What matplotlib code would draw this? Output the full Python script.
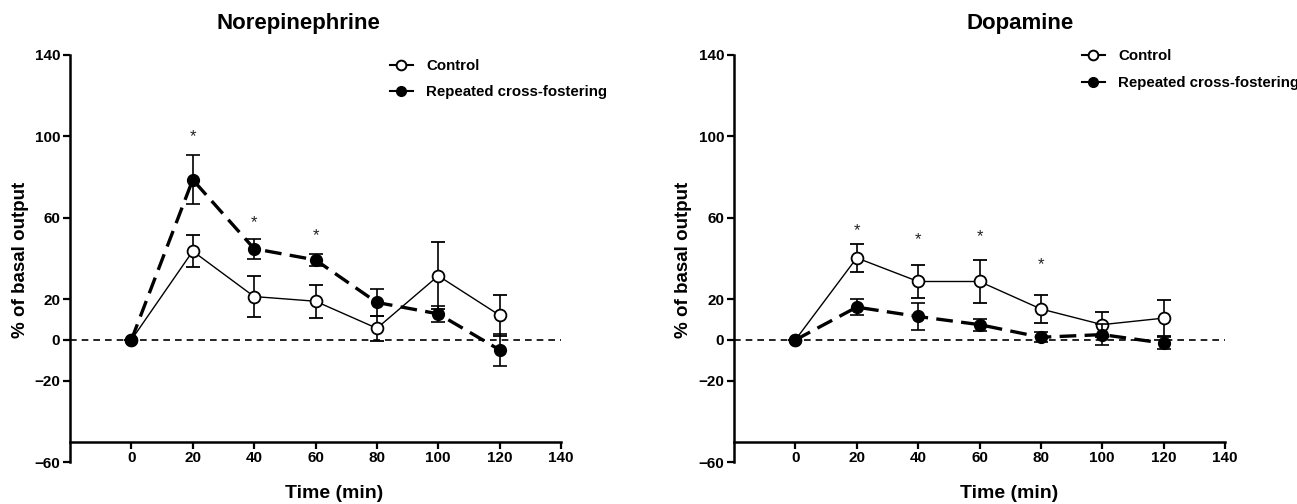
import matplotlib
matplotlib.use("Agg")
import matplotlib.pyplot as plt

plt.rcParams['font.family'] = ['Liberation Sans', 'DejaVu Sans']
plt.rcParams['font.weight'] = 'bold'

time = [0, 20, 40, 60, 80, 100, 120]

# Norepinephrine
ne_ctrl = [0, 43.6, 21.3, 19.0, 5.7, 31.5, 12.1]
ne_ctrl_err = [0, 8, 10, 8, 6, 16.5, 10]
ne_rcf = [0, 78.7, 44.8, 39.3, 18.4, 12.8, -4.9]
ne_rcf_err = [0, 12, 5, 3, 6.5, 4, 8]
ne_star_x = [20, 40, 60]
ne_star_y = [100, 57.4, 51]

# Dopamine
da_ctrl = [0, 40.3, 28.7, 28.7, 15.2, 7.5, 10.7]
da_ctrl_err = [0, 7, 8, 10.5, 7, 6, 9]
da_rcf = [0, 16.1, 11.5, 7.5, 1.3, 2.6, -1.6]
da_rcf_err = [0, 4, 6.5, 3, 2.5, 5, 3]
da_star_x = [20, 40, 60, 80]
da_star_y = [53.8, 49.5, 50.8, 37]

yticks = [-60, -20, 0, 20, 60, 100, 140]
xticks = [0, 20, 40, 60, 80, 100, 120, 140]

fig = plt.figure(figsize=(12.97, 5.04), dpi=100)
W, H = 1297, 504

def make_ax(left_px, title, title_x, xlab_x, ylab_x, ctrl, ctrl_err, rcf, rcf_err,
            sx, sy, leg_anchor, leg_spacing):
    ax = fig.add_axes([left_px / W, (504 - 462) / H, 491 / W, 407 / H])
    ax.set_xlim(-20, 140)
    ax.set_ylim(-60, 140)
    ax.spines['top'].set_visible(False)
    ax.spines['right'].set_visible(False)
    ax.spines['bottom'].set_position(('data', -50))
    for s in ('left', 'bottom'):
        ax.spines[s].set_linewidth(1.8)
    ax.set_xticks(xticks)
    ax.set_yticks(yticks)
    ax.tick_params(width=1.6, length=5, labelsize=11, pad=2)
    for lab in ax.get_xticklabels() + ax.get_yticklabels():
        lab.set_fontweight('bold')
    ax.axhline(0, color='black', linestyle=(0, (4, 3)), linewidth=1.2, zorder=1)
    ax.errorbar(time, ctrl, yerr=ctrl_err, color='black', linewidth=1.0,
                marker='o', markersize=8.5, markerfacecolor='white',
                markeredgewidth=1.3, capsize=5, elinewidth=1.2, capthick=1.2,
                zorder=3)
    ax.errorbar(time, rcf, yerr=rcf_err, color='black', linewidth=2.4,
                linestyle=(0, (5, 2.5)), marker='o', markersize=8.5,
                markerfacecolor='black', capsize=5, elinewidth=1.2,
                capthick=1.2, zorder=4)
    for x, y in zip(sx, sy):
        ax.text(x, y, '*', ha='center', va='center', fontsize=12, color='#222222',
                fontweight='normal')
    fig.text(title_x / W, 1 - 23 / H, title, ha='center', va='center',
             fontsize=16, fontweight='bold')
    fig.text(xlab_x / W, 1 - 493 / H, 'Time (min)', ha='center', va='center',
             fontsize=14, fontweight='bold')
    fig.text(ylab_x / W, 1 - 260 / H, '% of basal output', ha='center', va='center',
             rotation=90, fontsize=13.5, fontweight='bold')
    h1 = plt.Line2D([], [], color='black', linewidth=1.5, marker='o', markersize=7,
                    markerfacecolor='white', markeredgewidth=1.4)
    h2 = plt.Line2D([], [], color='black', linewidth=1.5, marker='o', markersize=7,
                    markerfacecolor='black')
    ax.legend([h1, h2], ['Control', 'Repeated cross-fostering'], loc='upper left',
              bbox_to_anchor=leg_anchor, frameon=False,
              handlelength=1.5, handletextpad=0.9, labelspacing=leg_spacing,
              borderpad=0, borderaxespad=0, prop={'weight': 'bold', 'size': 10.8})
    return ax

make_ax(70, 'Norepinephrine', 298, 334, 21, ne_ctrl, ne_ctrl_err, ne_rcf, ne_rcf_err,
        ne_star_x, ne_star_y, (0.652, 0.99), 0.8)
make_ax(734, 'Dopamine', 1020, 1009, 684, da_ctrl, da_ctrl_err, da_rcf, da_rcf_err,
        da_star_x, da_star_y, (0.709, 1.015), 0.9)

fig.savefig('out.png', dpi=100)
